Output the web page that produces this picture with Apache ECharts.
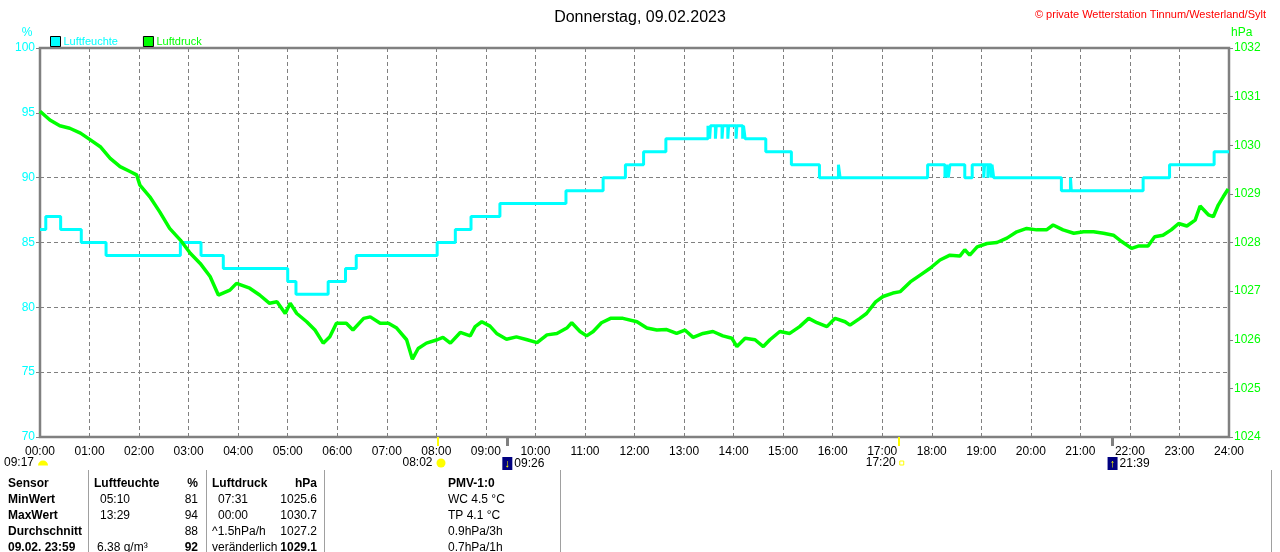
<!DOCTYPE html>
<html>
<head>
<meta charset="utf-8">
<title>Donnerstag, 09.02.2023</title>
<script src="https://cdn.jsdelivr.net/npm/echarts@6.0.0/dist/echarts.min.js"></script>
<style>
  html, body { margin: 0; padding: 0; background: #fff; }
  #chart { width: 1280px; height: 552px; }
</style>
</head>
<body>
<div id="chart"></div>
<script>
// Luftfeuchte (%) - Zeitpunkte der Wertwechsel
var humTimes = ['00:00','00:07','00:25','00:50','01:20','02:50','03:15','03:42','05:00','05:10','05:49','06:10','06:23',
    '08:01','08:23','08:42','09:17','10:37','11:22','11:49','12:11','12:38',
    '13:29','13:31','13:32','13:38','13:39','13:46','13:47','13:53','13:54','14:03','14:04','14:11','14:12','14:14',
    '14:39','15:10','15:44','16:07','16:09','17:55','18:16','18:18','18:20','18:22','18:40','18:49',
    '19:03','19:04','19:08','19:09','19:12','19:13','19:15','20:37','20:48','20:49','22:16','22:48','23:42','24:00'];
var humValues = [86,87,86,85,84,85,84,83,82,81,82,83,84,
    85,86,87,88,89,90,91,92,93,
    94,93,94,93,94,93,94,93,94,93,94,93,94,93,
    92,91,90,91,90,91,90,91,90,91,90,91,
    90,91,90,91,90,91,90,89,90,89,90,91,92,92];

// Luftdruck (hPa)
var presTimes = ['00:00','00:12','00:24','00:36','00:49','01:01','01:13','01:25','01:37','01:49','01:57','02:01','02:13','02:25','02:37','02:50',
    '03:02','03:14','03:26','03:36','03:50','03:58','04:14','04:26','04:38','04:47','04:57','05:03','05:11','05:23','05:33','05:43','05:51','05:59',
    '06:11','06:19','06:32','06:40','06:52','07:02','07:12','07:24','07:31','07:38','07:48','08:01','08:08','08:17','08:29','08:41','08:47','08:55',
    '09:05','09:13','09:25','09:37','09:50','10:02','10:14','10:26','10:38','10:44','10:54','11:02','11:10','11:20','11:31','11:46',
    '12:03','12:15','12:27','12:39','12:51','13:01','13:11','13:23','13:35','13:47','13:58','14:04','14:14','14:26','14:36','14:44','14:56',
    '15:08','15:20','15:31','15:41','15:53','16:03','16:15','16:21','16:33','16:41','16:52','17:01','17:13','17:22','17:34','17:46','17:58',
    '18:10','18:22','18:34','18:40','18:46','18:55','19:07','19:19','19:31','19:43','19:55','20:07','20:19','20:27','20:39','20:52',
    '21:04','21:16','21:28','21:40','21:50','22:02','22:11','22:22','22:30','22:40','22:50','22:59','23:09','23:19','23:25','23:35','23:41','23:47','23:53','23:59'];
var presValues = [1030.70,1030.52,1030.40,1030.35,1030.25,1030.11,1029.97,1029.73,1029.56,1029.46,1029.39,1029.18,1028.94,1028.63,1028.29,1028.05,
    1027.78,1027.57,1027.30,1026.92,1027.02,1027.16,1027.06,1026.92,1026.75,1026.78,1026.54,1026.75,1026.54,1026.37,1026.20,1025.93,1026.06,1026.34,
    1026.34,1026.20,1026.44,1026.47,1026.34,1026.34,1026.24,1026.00,1025.60,1025.82,1025.93,1026.00,1026.05,1025.93,1026.15,1026.08,1026.27,1026.37,
    1026.28,1026.13,1026.01,1026.06,1026.00,1025.94,1026.10,1026.13,1026.24,1026.35,1026.17,1026.08,1026.17,1026.35,1026.44,1026.44,
    1026.37,1026.24,1026.20,1026.21,1026.13,1026.20,1026.05,1026.13,1026.17,1026.08,1026.03,1025.86,1026.03,1026.00,1025.86,1026.00,1026.17,
    1026.13,1026.27,1026.44,1026.35,1026.27,1026.44,1026.37,1026.30,1026.44,1026.54,1026.78,1026.89,1026.96,1026.99,1027.19,1027.33,1027.47,
    1027.64,1027.74,1027.72,1027.85,1027.74,1027.91,1027.98,1028.00,1028.09,1028.22,1028.29,1028.26,1028.26,1028.36,1028.26,1028.19,
    1028.22,1028.22,1028.19,1028.15,1028.02,1027.88,1027.93,1027.93,1028.12,1028.15,1028.26,1028.39,1028.34,1028.46,1028.75,1028.57,1028.53,1028.77,1028.94,1029.10];

// Sonne / Mond Zeiten unter der Achse
var eventTimes = ['00:00','08:02','09:26','17:20','21:39'];
var eventLabels = ['09:17','08:02','09:26','17:20','21:39'];
var eventKinds = ['moonset','sunrise','moonup','sunset','moondown'];

// Tabelle unten
var tabSensor = ['Sensor','MinWert','MaxWert','Durchschnitt','09.02. 23:59'];
var tabHumText = ['Luftfeuchte','05:10','13:29','','6.38 g/m\u00b3'];
var tabHumVal = ['%','81','94','88','92'];
var tabPresText = ['Luftdruck','07:31','00:00','^1.5hPa/h','ver\u00e4nderlich'];
var tabPresVal = ['hPa','1025.6','1030.7','1027.2','1029.1'];
var tabPmv = ['PMV-1:0','WC 4.5 \u00b0C','TP 4.1 \u00b0C','0.9hPa/3h','0.7hPa/1h'];

var fontFam = '"Liberation Sans", Arial, sans-serif';

function toH(s) {
    var p = s.split(':');
    return parseInt(p[0], 10) + parseInt(p[1], 10) / 60;
}
function pad2(n) { return (n < 10 ? '0' : '') + n; }

var humData = humTimes.map(function (t, i) { return [toH(t), humValues[i]]; });
var presData = presTimes.map(function (t, i) { return [toH(t), presValues[i]]; });

var sunTicks = [], moonTicks = [];
eventTimes.forEach(function (t, i) {
    if (i === 0) return;
    if (eventKinds[i].indexOf('sun') === 0) sunTicks.push(toH(t)); else moonTicks.push(toH(t));
});

function eventLabel(v) {
    for (var i = 0; i < eventTimes.length; i++) {
        if (Math.abs(toH(eventTimes[i]) - v) < 0.001) {
            var k = eventKinds[i];
            if (k === 'sunrise') return '{t|' + eventLabels[i] + '}{g|}{sun|}{ps|}';
            if (k === 'sunset') return '{t|' + eventLabels[i] + '}{g|}{sq|}{ps|}';
            if (k === 'moonset') return '{t|' + eventLabels[i] + '}{g|}{dome|}{ps|}';
            if (k === 'moonup') return '{pm|}{mn|\u2193}{g2|}{t|' + eventLabels[i] + '}';
            return '{pm|}{mn|\u2191}{g2|}{t|' + eventLabels[i] + '}';
        }
    }
    return '';
}

// Tabelle als Text
var graphics = [];
function txt(x, y, s, align, bold, color) {
    graphics.push({
        type: 'text', x: x, y: y, silent: true,
        style: { text: s, fill: color || '#000', textAlign: align, textVerticalAlign: 'middle',
            font: (bold ? 'bold ' : '') + '12px ' + fontFam }
    });
}
for (var r = 0; r < tabSensor.length; r++) {
    var y = 484 + r * 16;
    var last = r === tabSensor.length - 1;
    txt(8, y, tabSensor[r], 'left', true);
    txt(r === 0 ? 94 : (r === 4 ? 97 : 100), y, tabHumText[r], 'left', r === 0);
    txt(198, y, tabHumVal[r], 'right', r === 0 || last);
    txt((r === 0 || r >= 3) ? 212 : 218, y, tabPresText[r], 'left', r === 0);
    txt(317, y, tabPresVal[r], 'right', r === 0 || last);
    txt(448, y, tabPmv[r], 'left', r === 0);
}
[88, 206, 324, 560, 1271].forEach(function (x) {
    graphics.push({ type: 'line', silent: true, shape: { x1: x + 0.5, y1: 470, x2: x + 0.5, y2: 552 },
        style: { stroke: '#a0a0a0', lineWidth: 1 } });
});
// Achsen-Einheiten
txt(27, 33, '%', 'center', false, '#00ffff');
txt(1231, 33, 'hPa', 'left', false, '#00ff00');

var myChart = echarts.init(document.getElementById('chart'));
var option = {
    animation: false,
    backgroundColor: '#fff',
    textStyle: { fontFamily: fontFam },
    title: [{
        text: 'Donnerstag, 09.02.2023',
        left: 'center', top: 5,
        textStyle: { fontSize: 16, fontWeight: 'normal', color: '#000', fontFamily: fontFam }
    }, {
        text: '\u00a9 private Wetterstation Tinnum/Westerland/Sylt',
        right: 9, top: 4,
        textStyle: { fontSize: 11, fontWeight: 'normal', color: '#ff0000', fontFamily: fontFam }
    }],
    legend: {
        left: 45, top: 31,
        icon: 'rect', itemWidth: 10, itemHeight: 10, itemGap: 25,
        itemStyle: { borderColor: '#000', borderWidth: 1 },
        textStyle: { fontSize: 11, fontFamily: fontFam, padding: [0, 0, 0, -2] },
        data: [
            { name: 'Luftfeuchte', textStyle: { color: '#00ffff' } },
            { name: 'Luftdruck', textStyle: { color: '#00ff00' } }
        ]
    },
    grid: {
        left: 40, right: 51, top: 48, bottom: 115,
        show: true, borderColor: '#808080', borderWidth: 2.5
    },
    xAxis: [{
        type: 'value', min: 0, max: 24, interval: 1,
        axisLine: { show: false, onZero: false },
        axisTick: { show: false },
        axisLabel: {
            color: '#000', fontSize: 12, margin: 9, fontFamily: fontFam,
            formatter: function (v) { return pad2(v) + ':00'; }
        },
        splitLine: { show: true, lineStyle: { color: '#808080', type: [4, 3], width: 1 } }
    }, {
        type: 'value', min: 0, max: 24, position: 'bottom',
        axisLine: { show: false, onZero: false },
        splitLine: { show: false },
        axisTick: { show: true, customValues: sunTicks, length: 9, lineStyle: { color: '#ffff00', width: 2 } },
        axisLabel: {
            show: true, customValues: eventTimes.map(toH), margin: 20,
            formatter: eventLabel,
            rich: {
                t: { color: '#000', fontSize: 12, fontFamily: fontFam },
                g: { width: 4 },
                g2: { width: 2 },
                ps: { width: 28 },
                pm: { width: 32 },
                sun: { width: 9, height: 9, backgroundColor: '#ffff00', borderRadius: 5 },
                sq: { width: 4, height: 4, borderColor: '#ffff00', borderWidth: 1 },
                dome: { width: 10, height: 5, backgroundColor: '#ffff00', borderRadius: [5, 5, 0, 0] },
                mn: { width: 10, height: 13, backgroundColor: '#000080', color: '#ffff00', align: 'center',
                    fontSize: 11, fontWeight: 'bold', lineHeight: 13 }
            }
        }
    }, {
        type: 'value', min: 0, max: 24, position: 'bottom',
        axisLine: { show: false, onZero: false },
        splitLine: { show: false },
        axisTick: { show: true, customValues: moonTicks, length: 9, lineStyle: { color: '#808080', width: 3 } },
        axisLabel: { show: false }
    }],
    yAxis: [{
        type: 'value', min: 70, max: 100, interval: 5, position: 'left',
        axisLine: { show: false, onZero: false },
        axisTick: { show: true, length: 4, lineStyle: { color: '#808080' } },
        axisLabel: { color: '#00ffff', fontSize: 12, margin: 5, fontFamily: fontFam },
        splitLine: { show: true, lineStyle: { color: '#808080', type: [4, 3], width: 1 } }
    }, {
        type: 'value', min: 1024, max: 1032, interval: 1, position: 'right',
        axisLine: { show: false, onZero: false },
        axisTick: { show: true, length: 4, lineStyle: { color: '#808080' } },
        axisLabel: { color: '#00ff00', fontSize: 12, margin: 5, fontFamily: fontFam,
            formatter: function (v) { return String(v); } },
        splitLine: { show: false }
    }],
    series: [{
        name: 'Luftfeuchte',
        type: 'line', xAxisIndex: 0, yAxisIndex: 0,
        step: 'end', symbol: 'none',
        itemStyle: { color: '#00ffff' },
        lineStyle: { color: '#00ffff', width: 3 },
        data: humData
    }, {
        name: 'Luftdruck',
        type: 'line', xAxisIndex: 0, yAxisIndex: 1,
        symbol: 'none',
        itemStyle: { color: '#00ff00' },
        lineStyle: { color: '#00ff00', width: 3.5 },
        data: presData
    }],
    graphic: graphics
};
myChart.setOption(option);
</script>
</body>
</html>
